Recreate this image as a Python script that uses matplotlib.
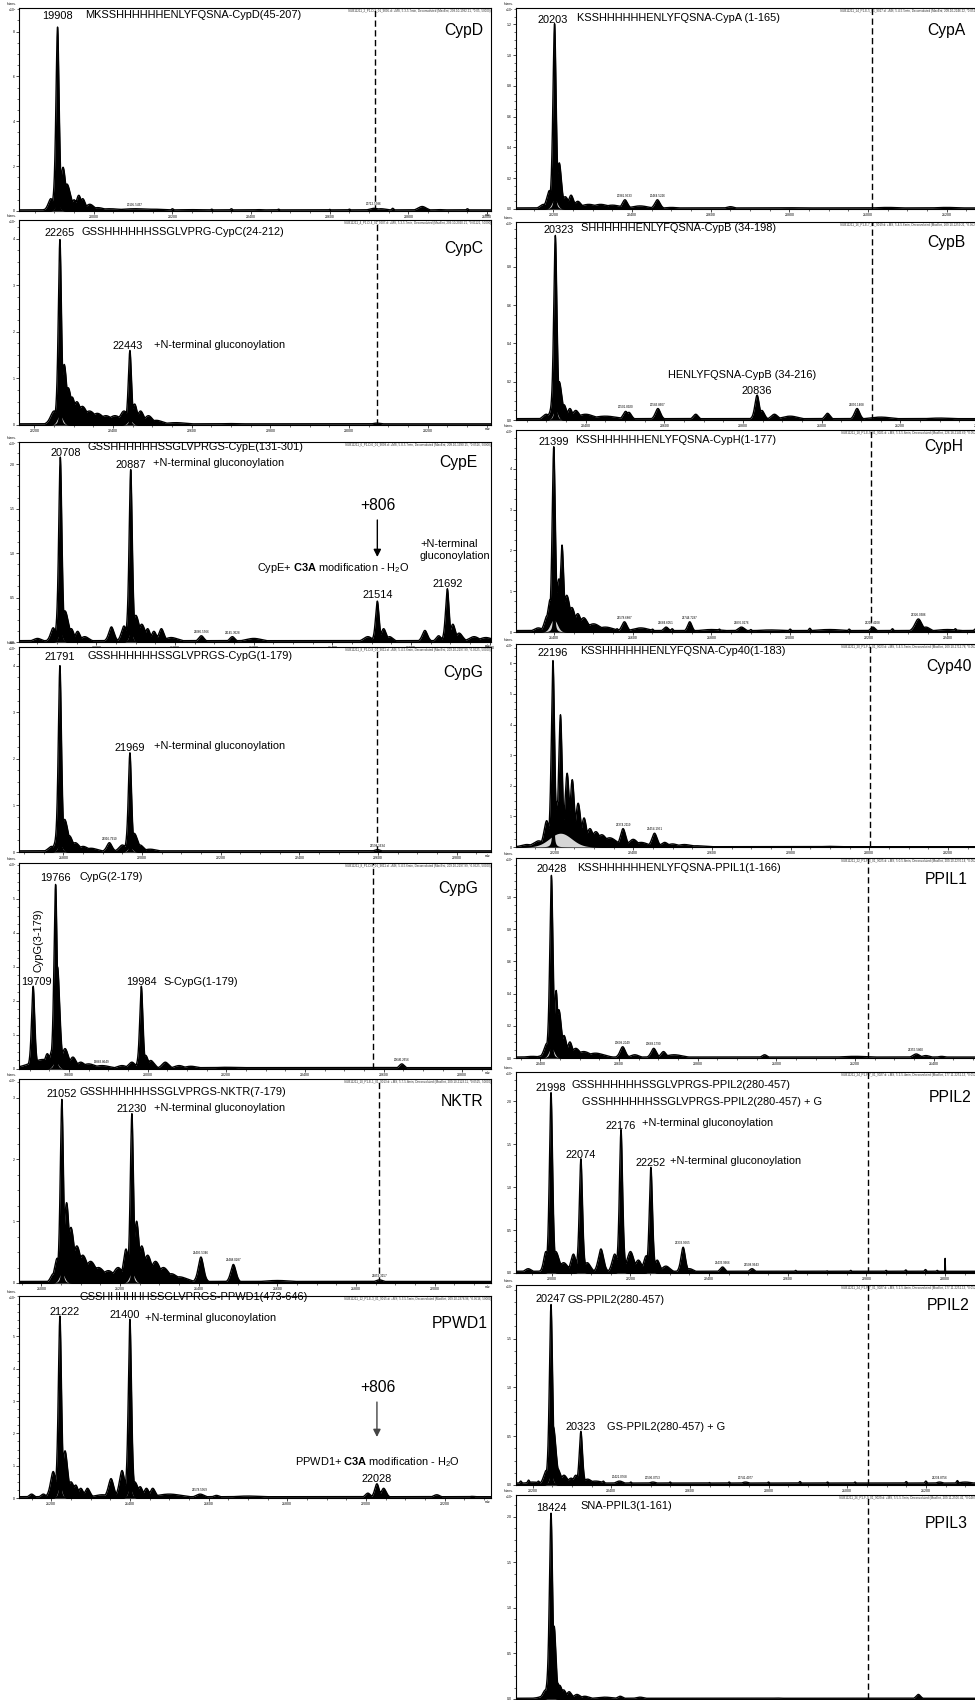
import numpy as np
import matplotlib
matplotlib.use("Agg")
import matplotlib.pyplot as plt
from matplotlib.ticker import MultipleLocator, AutoMinorLocator

plt.rcParams["font.family"] = ["Liberation Sans", "DejaVu Sans"]
plt.rcParams["mathtext.fontset"] = "custom"
plt.rcParams["mathtext.rm"] = "Liberation Sans"
plt.rcParams["mathtext.it"] = "Liberation Sans:italic"
plt.rcParams["mathtext.bf"] = "Liberation Sans:bold"

W, H = 975, 1700
C3A_SHIFT = 806      # mass gained by the C3A adduct (minus water), Da
SPAN = 1200          # deconvoluted mass window shown in every panel, Da

# ---------------------------------------------------------------------------
# Peak tables: centre mass (Da), intensity (axis units), half width (Da)
# plus the level of the noise floor of each trace
# ---------------------------------------------------------------------------
cypd_mz = [19891, 19908, 19922, 19932, 19950, 19962, 19972, 19990, 20010, 20040,
           20105.5437, 20150, 20200, 20250, 20300, 20350, 20420, 20470, 20540, 20600,
           20650, 20712.5386, 20730, 20760, 20835, 20880, 20950]
cypd_int = [0.55, 8.2, 1.95, 1.2, 0.5, 0.7, 0.55, 0.3, 0.15, 0.1,
            0.1, 0.08, 0.1, 0.06, 0.08, 0.1, 0.06, 0.08, 0.05, 0.07,
            0.08, 0.12, 0.1, 0.12, 0.2, 0.06, 0.1]
cypd_hw = [3, 1.8, 3, 4, 3, 3, 3, 5, 8, 15, 20, 20, 1.5, 30, 1.5, 1.5, 10, 1.5, 10, 1.5,
           1.5, 6, 8, 1.5, 5, 10, 1.5]
cypd_gray = [(19908, 0.25, 6)]
cypd_floor = 0.05

cypc_mz = [22250, 22265, 22276, 22286, 22296, 22308, 22322, 22340, 22360, 22382,
           22405, 22428, 22443, 22455, 22470, 22490, 22510, 22560, 22700, 23071]
cypc_int = [0.3, 3.98, 1.3, 0.8, 0.6, 0.5, 0.4, 0.3, 0.25, 0.2,
            0.2, 0.3, 1.6, 0.45, 0.3, 0.2, 0.1, 0.05, 0.03, 0.04]
cypc_hw = [4, 1.8, 3, 4, 4, 5, 6, 8, 8, 8, 8, 5, 1.8, 3, 4, 5, 8, 15, 20, 6]
cypc_gray = [(22265, 0.2, 7), (22443, 0.1, 6)]
cypc_floor = 0.025

cype_mz = [20650, 20690, 20708, 20720, 20736, 20752, 20770, 20838, 20870, 20887,
           20900, 20915, 20930, 20946, 20965, 20990, 21066.5566, 21145.3628, 21200,
           21490, 21514, 21530, 21545, 21635, 21670, 21692, 21706, 21722, 21760, 21790]
cype_int = [0.04, 0.16, 2.08, 0.35, 0.15, 0.12, 0.06, 0.17, 0.18, 1.94,
            0.3, 0.2, 0.15, 0.12, 0.15, 0.05, 0.07, 0.06, 0.04,
            0.06, 0.46, 0.15, 0.06, 0.13, 0.07, 0.60, 0.2, 0.1, 0.06, 0.05]
cype_hw = [5, 3, 1.8, 4, 3, 3, 5, 3, 3, 1.8, 4, 4, 3, 3, 3, 8, 3, 3, 10,
           5, 2, 3, 4, 3, 3, 2, 3, 4, 6, 8]
cype_gray = [(20708, 0.1, 5), (20887, 0.1, 5)]
cype_floor = 0.015

cypg_mz = [21770, 21791, 21803, 21815, 21830, 21850, 21870, 21916.7910, 21950,
           21969, 21980, 21995, 22020, 22598.1634]
cypg_int = [0.12, 4.0, 0.7, 0.35, 0.2, 0.12, 0.08, 0.2, 0.15, 2.13, 0.4, 0.15, 0.06, 0.05]
cypg_hw = [4, 1.8, 4, 4, 5, 6, 8, 3, 4, 1.8, 4, 4, 8, 4]
cypg_gray = [(21791, 0.15, 6), (21969, 0.1, 6)]
cypg_floor = 0.025

cypg2_mz = [19700, 19709, 19735, 19745, 19758, 19766, 19771, 19790, 19810, 19830,
            19850, 19883.8649, 19935, 19960, 19984, 19995, 20008, 20045, 20080,
            20110, 20200, 20646.2656, 20700]
cypg2_int = [0.15, 2.43, 0.28, 0.45, 0.6, 5.42, 3.0, 0.6, 0.35, 0.2,
             0.15, 0.1, 0.1, 0.2, 2.43, 0.4, 0.25, 0.2, 0.1, 0.08, 0.05, 0.15, 0.03]
cypg2_hw = [3, 1.8, 15, 3, 3, 1.8, 2.5, 4, 4, 5, 8, 10, 6, 4, 1.8, 3, 4, 4, 6, 8, 20, 3, 20]
cypg2_gray = [(19766, 0.2, 7)]
cypg2_floor = 0.04

nktr_mz = [21030, 21040, 21052, 21064, 21075, 21090, 21105, 21125, 21145, 21170,
           21195, 21215, 21230, 21242, 21255, 21270, 21290, 21310, 21330, 21350,
           21405.5346, 21488.0287, 21600, 21859.3157]
nktr_int = [0.15, 0.4, 2.97, 1.3, 0.9, 0.6, 0.45, 0.35, 0.25, 0.2,
            0.25, 0.55, 2.74, 1.0, 0.6, 0.45, 0.35, 0.25, 0.15, 0.1,
            0.42, 0.3, 0.04, 0.05]
nktr_hw = [3, 3, 1.8, 3, 4, 5, 6, 7, 8, 8, 6, 3, 1.8, 3, 4, 5, 6, 7, 8, 10, 3, 3, 20, 5]
nktr_gray = [(21052, 0.15, 7), (21230, 0.15, 7)]
nktr_floor = 0.025

ppwd1_mz = [21150, 21180, 21205, 21222, 21235, 21250, 21262, 21275, 21292, 21330,
            21352, 21380, 21400, 21412, 21426, 21442, 21458, 21500, 21578.5959,
            21620, 21700, 22005, 22028, 22045, 22180, 22270]
ppwd1_int = [0.12, 0.12, 0.82, 5.63, 1.46, 0.5, 0.4, 0.3, 0.3, 0.1,
             0.6, 0.85, 5.53, 0.5, 0.35, 0.3, 0.3, 0.12, 0.12,
             0.08, 0.06, 0.15, 0.44, 0.3, 0.1, 0.05]
ppwd1_hw = [3, 3, 3, 1.8, 3, 4, 3, 3, 3, 10, 3, 3, 1.8, 4, 3, 3, 3, 15, 5,
            4, 20, 3, 2.5, 3, 4, 5]
ppwd1_gray = [(21222, 0.35, 5), (21400, 0.3, 5)]
ppwd1_floor = 0.04

cypa_mz = [20175, 20190, 20203, 20215, 20230, 20245, 20262, 20290, 20320, 20350,
           20381.9533, 20420, 20464.5226, 20500, 20650, 20800, 21050, 21200]
cypa_int = [0.03, 0.12, 1.205, 0.3, 0.08, 0.09, 0.05, 0.03, 0.03, 0.025,
            0.06, 0.02, 0.06, 0.01, 0.015, 0.008, 0.01, 0.01]
cypa_hw = [4, 3, 1.8, 2.5, 4, 3, 4, 10, 10, 10, 3, 10, 3, 10, 5, 20, 20, 20]
cypa_gray = [(20203, 0.06, 7)]
cypa_floor = 0.007

cypb_mz = [20300, 20323, 20333, 20345, 20360, 20375, 20400, 20450, 20501.8920,
           20510, 20583.8607, 20680, 20836, 20848, 20880, 20920, 21015, 21090.1408,
           21150, 21300]
cypb_int = [0.03, 0.965, 0.2, 0.08, 0.06, 0.05, 0.03, 0.02, 0.045,
            0.04, 0.06, 0.03, 0.13, 0.05, 0.03, 0.02, 0.035, 0.06, 0.015, 0.01]
cypb_hw = [4, 1.8, 3, 3, 3, 4, 10, 15, 3, 3, 3, 3, 2.5, 3, 4, 10, 3, 3, 15, 20]
cypb_gray = [(20323, 0.05, 6)]
cypb_floor = 0.007

cyph_mz = [21360, 21382, 21390, 21399, 21412, 21420, 21432, 21445, 21460, 21475,
           21500, 21530, 21560, 21578.6887, 21620, 21650, 21684.6051, 21700, 21744.7287,
           21800, 21820, 21876.0176, 21900, 21950, 22000, 22050, 22100, 22150,
           22210.4108, 22260, 22326.0386, 22345, 22400, 22420, 22470]
cyph_int = [0.1, 0.4, 0.8, 4.54, 1.3, 2.13, 0.9, 0.6, 0.45, 0.35,
            0.2, 0.12, 0.08, 0.25, 0.1, 0.07, 0.12, 0.08, 0.25,
            0.06, 0.07, 0.12, 0.06, 0.05, 0.07, 0.09, 0.06, 0.07,
            0.12, 0.08, 0.32, 0.12, 0.06, 0.08, 0.07]
cyph_hw = [5, 3, 3, 1.8, 3, 2, 4, 4, 4, 5, 8, 10, 1.5, 3, 10, 1.5, 3, 1.5, 2.5,
           15, 1.5, 4, 1.5, 20, 1.5, 1.5, 20, 1.5, 3, 1.5, 4, 5, 15, 1.5, 1.5]
cyph_gray = [(21399, 0.3, 9)]
cyph_floor = 0.035

cyp40_mz = [22130, 22160, 22180, 22196, 22208, 22215, 22232, 22245, 22260, 22275,
            22290, 22305, 22320, 22340, 22374.2119, 22400, 22420, 22454.1951, 22480,
            22500, 22530, 22560, 22900]
cyp40_int = [0.08, 0.2, 0.86, 6.09, 1.5, 4.32, 2.41, 2.2, 1.43, 0.95,
             0.6, 0.5, 0.4, 0.3, 0.6, 0.25, 0.15, 0.45, 0.15, 0.1, 0.08, 0.04, 0.02]
cyp40_hw = [6, 6, 3, 1.8, 3, 2, 2.5, 2.5, 3, 3, 4, 5, 6, 8, 3, 5, 8, 3, 4, 6, 8, 10, 10]
cyp40_gray = [(22215, 0.45, 28)]
cyp40_floor = 0.01

ppil1_mz = [20380, 20416, 20428, 20440, 20447, 20460, 20475, 20490, 20510, 20540,
            20609.2049, 20640, 20688.1790, 20713, 20740, 20970, 21200, 21355.5860,
            21380, 21420]
ppil1_int = [0.01, 0.09, 1.135, 0.42, 0.3, 0.14, 0.1, 0.06, 0.04, 0.03,
             0.07, 0.02, 0.06, 0.04, 0.02, 0.02, 0.01, 0.025, 0.015, 0.01]
ppil1_hw = [10, 3, 1.8, 2, 3, 3, 3, 5, 8, 10, 3, 5, 3, 3, 10, 3, 20, 4, 5, 5]
ppil1_gray = [(20428, 0.06, 7)]
ppil1_floor = 0.006

ppil2_mz = [21940, 21985, 21998, 22010, 22030, 22055, 22074, 22090, 22125, 22160,
            22176, 22200, 22220, 22240, 22252, 22268, 22290, 22333.9565, 22350,
            22433.9666, 22508.9643, 22600, 22620, 22700, 22760, 22800, 22850, 22900,
            22950, 22980, 23000]
ppil2_int = [0.05, 0.25, 2.1, 0.25, 0.12, 0.22, 1.33, 0.12, 0.28, 0.22,
             1.67, 0.25, 0.15, 0.2, 1.23, 0.15, 0.08, 0.3, 0.05,
             0.07, 0.05, 0.02, 0.03, 0.025, 0.03, 0.02, 0.03, 0.035, 0.04, 0.03, 0.17]
ppil2_hw = [4, 2.5, 1.8, 4, 5, 3, 1.8, 4, 3, 3, 1.8, 4, 4, 3, 1.8, 3, 5, 2.5, 5,
            3, 3, 20, 1.5, 1.5, 1.5, 20, 1.5, 1.5, 1.5, 1.5, 0.15]
ppil2_gray = [(21998, 0.05, 5), (22074, 0.04, 5), (22176, 0.04, 5), (22252, 0.04, 5)]
ppil2_floor = 0.02

ppil2b_mz = [20170, 20190, 20200, 20215, 20235, 20247, 20253, 20262, 20280, 20298,
             20310, 20323, 20340, 20360, 20380, 20421.0768, 20450, 20506.0753, 20550,
             20600, 20650, 20700, 20741.4077, 20800, 20880, 20900, 20950, 21020, 21100,
             21150, 21200, 21234.8756, 21280, 21300, 21330]
ppil2b_int = [0.04, 0.05, 0.03, 0.04, 0.15, 1.85, 0.6, 0.18, 0.1, 0.07,
              0.1, 0.55, 0.06, 0.04, 0.04, 0.04, 0.03, 0.03, 0.03,
              0.02, 0.025, 0.03, 0.03, 0.03, 0.035, 0.02, 0.03, 0.03, 0.02,
              0.035, 0.04, 0.03, 0.045, 0.03, 0.05]
ppil2b_hw = [1.5, 1.5, 10, 1.5, 3, 1.8, 3, 4, 4, 4, 3, 1.8, 5, 10, 1.5, 5, 1.5, 5, 1.5,
             20, 1.5, 1.5, 5, 1.5, 1.5, 20, 1.5, 1.5, 20, 1.5, 1.5, 5, 1.5, 10, 1.5]
ppil2b_gray = [(20247, 0.1, 5)]
ppil2b_floor = 0.02

ppil3_mz = [18410, 18424, 18432, 18440, 18446, 18456, 18470, 18490, 18510, 18560,
            18600, 18650, 19000, 19358]
ppil3_int = [0.1, 2.04, 0.8, 0.18, 0.15, 0.1, 0.08, 0.05, 0.03, 0.02,
             0.03, 0.02, 0.01, 0.05]
ppil3_hw = [3, 1.8, 2, 3, 3, 3, 3, 4, 5, 10, 3, 5, 10, 2.5]
ppil3_gray = [(18424, 0.06, 5)]
ppil3_floor = 0.008

GLUC = "+N-terminal gluconoylation"

PANELS = [
    # ---------------- left column ----------------
    dict(col=0, top=8, bottom=211, x0=19810, ymax=9.05, yticks=[0, 2, 4, 6, 8], yfmt="{:g}", exp=5,
         mz=cypd_mz, inten=cypd_int, hw=cypd_hw, gray=cypd_gray, floor=cypd_floor,
         labels=[(19908, 0, 12)], small=[20105.5437, 20712.5386], dashed=19908 + C3A_SHIFT,
         name="CypD", name_xy=(483, 30),
         texts=[(85, 15, "MKSSHHHHHHENLYFQSNA-CypD(45-207)", "left")],
         header="SUB11211_2_P1-D-2_01_9005.d: +MS, 5.3-5.7min, Deconvoluted (MaxEnt, 209.10-1992.21, *0.05, 50000)"),
    dict(col=0, top=220, bottom=425, x0=22161, ymax=4.4, yticks=[0, 1, 2, 3, 4], yfmt="{:g}", exp=5,
         mz=cypc_mz, inten=cypc_int, hw=cypc_hw, gray=cypc_gray, floor=cypc_floor,
         labels=[(22265, 0, 8), (22443, -2, 5)], small=[], dashed=22265 + C3A_SHIFT,
         name="CypC", name_xy=(483, 249),
         texts=[(81, 232, "GSSHHHHHHSSGLVPRG-CypC(24-212)", "left"), (154, 345, GLUC, "left")],
         header="SUB11211_4_P1-D-4_01_9007.d: +MS, 5.3-5.7min, Deconvoluted (MaxEnt, 209.10-2020.21, *0.01121, 50000)"),
    dict(col=0, top=442, bottom=642, x0=20603, ymax=2.25, yticks=[0, 0.5, 1.0, 1.5, 2.0], yfmt="{:.1f}", exp=5,
         mz=cype_mz, inten=cype_int, hw=cype_hw, gray=cype_gray, floor=cype_floor,
         labels=[(20708, 5, 5), (20887, 0, 6), (21514, 0, 7), (21692, 0, 6)],
         small=[21066.5566, 21145.3628], dashed=None,
         arrow=(20708 + C3A_SHIFT, 0.61, 0.425, "black"), plus_xy=(378, 505),
         name="CypE", name_xy=(477, 463),
         texts=[(88, 447, "GSSHHHHHHSSGLVPRGS-CypE(131-301)", "left"), (153, 463, GLUC, "left"),
                (333, 568, r"CypE+ $\mathbf{C3A}$ modification - H$_\mathrm{2}$O", "center"),
                (420, 550, "+N-terminal\ngluconoylation", "left")],
         header="SUB11211_6_P1-D-6_01_9009.d: +MS, 5.0-5.7min, Deconvoluted (MaxEnt, 209.10-1990.15, *0.0516, 50000)"),
    dict(col=0, top=647, bottom=852, x0=21687, ymax=4.4, yticks=[0, 1, 2, 3, 4], yfmt="{:g}", exp=5,
         mz=cypg_mz, inten=cypg_int, hw=cypg_hw, gray=cypg_gray, floor=cypg_floor,
         labels=[(21791, 0, 10), (21969, 0, 6)], small=[21916.7910, 22598.1634], dashed=21791 + C3A_SHIFT,
         name="CypG", name_xy=(483, 672),
         texts=[(87, 656, "GSSHHHHHHSSGLVPRGS-CypG(1-179)", "left"), (154, 746, GLUC, "left")],
         header="SUB11211_8_P1-D-8_01_9011.d: +MS, 5.4-5.6min, Deconvoluted (MaxEnt, 209.10-2197.99, *0.0525, 50000)"),
    dict(col=0, top=863, bottom=1069, x0=19673, ymax=6.05, yticks=[0, 1, 2, 3, 4, 5], yfmt="{:g}", exp=5,
         mz=cypg2_mz, inten=cypg2_int, hw=cypg2_hw, gray=cypg2_gray, floor=cypg2_floor,
         labels=[(19766, 0, 7), (19709, 3, 5), (19984, 0, 5)], small=[19883.8649, 20646.2656],
         dashed=19766 + C3A_SHIFT,
         name="CypG", name_xy=(478, 888),
         texts=[(80, 877, "CypG(2-179)", "left"), (163, 982, "S-CypG(1-179)", "left")],
         vtext=(39, 940, "CypG(3-179)"),
         header="SUB11211_8_P1-D-8_01_9011.d: +MS, 5.4-5.6min, Deconvoluted (MaxEnt, 209.10-2197.99, *0.0525, 50000)"),
    dict(col=0, top=1079, bottom=1283, x0=20943, ymax=3.3, yticks=[0, 1, 2, 3], yfmt="{:g}", exp=5,
         mz=nktr_mz, inten=nktr_int, hw=nktr_hw, gray=nktr_gray, floor=nktr_floor,
         labels=[(21052, 0, 6), (21230, 0, 6)], small=[21405.5346, 21488.0287, 21859.3157],
         dashed=21052 + C3A_SHIFT,
         name="NKTR", name_xy=(483, 1101),
         texts=[(79, 1092, "GSSHHHHHHSSGLVPRGS-NKTR(7-179)", "left"), (154, 1108, GLUC, "left")],
         header="SUB11211_10_P1-E-1_01_9013.d: +MS, 5.7-5.8min, Deconvoluted (MaxEnt, 209.10-2123.11, *0.0525, 50000)"),
    dict(col=0, top=1296, bottom=1498, x0=21118, ymax=6.25, yticks=[0, 1, 2, 3, 4, 5], yfmt="{:g}", exp=5,
         mz=ppwd1_mz, inten=ppwd1_int, hw=ppwd1_hw, gray=ppwd1_gray, floor=ppwd1_floor,
         labels=[(21222, 5, 5), (21400, -5, 5), (22028, 0, 6)], small=[21578.5959], dashed=None,
         arrow=(21222 + C3A_SHIFT, 0.475, 0.302, "#444444"), plus_xy=(378, 1387),
         name="PPWD1", name_xy=(488, 1323),
         texts=[(80, 1297, "GSSHHHHHHSSGLVPRGS-PPWD1(473-646)", "left"), (145, 1318, GLUC, "left"),
                (377, 1462, r"PPWD1+ $\mathbf{C3A}$ modification - H$_\mathrm{2}$O", "center")],
         header="SUB11211_12_P1-E-3_01_9015.d: +MS, 5.3-5.5min, Deconvoluted (MaxEnt, 209.10-2378.96, *0.0516, 50000)"),
    # ---------------- right column ----------------
    dict(col=1, top=8, bottom=209, x0=20105, ymax=1.307, yticks=[0, 0.2, 0.4, 0.6, 0.8, 1.0, 1.2], yfmt="{:.1f}", exp=6,
         mz=cypa_mz, inten=cypa_int, hw=cypa_hw, gray=cypa_gray, floor=cypa_floor,
         labels=[(20203, -2, 5)], small=[20381.9533, 20464.5226], dashed=20203 + C3A_SHIFT,
         name="CypA", name_xy=(965, 30),
         texts=[(577, 18, "KSSHHHHHHENLYFQSNA-CypA (1-165)", "left")],
         header="SUB11211_14_P1-E-5_01_9017.d: +MS, 5.4-5.5min, Deconvoluted (MaxEnt, 209.10-2246.22, *0.0525, 50000)"),
    dict(col=1, top=222, bottom=420, x0=20223, ymax=1.035, yticks=[0, 0.2, 0.4, 0.6, 0.8], yfmt="{:.1f}", exp=6,
         mz=cypb_mz, inten=cypb_int, hw=cypb_hw, gray=cypb_gray, floor=cypb_floor,
         labels=[(20323, 3, 6), (20836, 0, 5)], small=[20501.8920, 20583.8607, 21090.1408],
         dashed=20323 + C3A_SHIFT,
         name="CypB", name_xy=(965, 242),
         texts=[(581, 228, "SHHHHHHENLYFQSNA-CypB (34-198)", "left"),
                (742, 375, "HENLYFQSNA-CypB (34-216)", "center")],
         header="SUB11211_16_P1-E-7_01_9019.d: +MS, 5.4-5.6min, Deconvoluted (MaxEnt, 209.10-2259.21, *0.0525, 50000)"),
    dict(col=1, top=430, bottom=632, x0=21303, ymax=4.95, yticks=[0, 1, 2, 3, 4], yfmt="{:g}", exp=5,
         mz=cyph_mz, inten=cyph_int, hw=cyph_hw, gray=cyph_gray, floor=cyph_floor,
         labels=[(21399, 0, 6)], small=[21578.6887, 21684.6051, 21744.7287, 21876.0176, 22210.4108, 22326.0386],
         dashed=21399 + C3A_SHIFT,
         name="CypH", name_xy=(963, 447),
         texts=[(575, 440, "KSSHHHHHHENLYFQSNA-CypH(1-177)", "left")],
         header="SUB11211_18_P1-E-9_01_9021.d: +MS, 5.3-5.6min, Deconvoluted (MaxEnt, 226.18-2142.69, *0.0525, 50000)"),
    dict(col=1, top=644, bottom=847, x0=22102, ymax=6.63, yticks=[0, 1, 2, 3, 4, 5, 6], yfmt="{:g}", exp=5,
         mz=cyp40_mz, inten=cyp40_int, hw=cyp40_hw, gray=cyp40_gray, floor=cyp40_floor,
         labels=[(22196, 0, 9)], small=[22374.2119, 22454.1951], dashed=22196 + C3A_SHIFT,
         name="Cyp40", name_xy=(972, 667),
         texts=[(580, 651, "KSSHHHHHHENLYFQSNA-Cyp40(1-183)", "left")],
         header="SUB11211_20_P1-F-1_01_9023.d: +MS, 5.4-5.5min, Deconvoluted (MaxEnt, 209.10-1712.78, *0.0525, 50000)"),
    dict(col=1, top=858, bottom=1058, x0=20338, ymax=1.243, yticks=[0, 0.2, 0.4, 0.6, 0.8, 1.0], yfmt="{:.1f}", exp=6,
         mz=ppil1_mz, inten=ppil1_int, hw=ppil1_hw, gray=ppil1_gray, floor=ppil1_floor,
         labels=[(20428, 0, 7)], small=[20609.2049, 20688.1790, 21355.5860], dashed=20428 + C3A_SHIFT,
         name="PPIL1", name_xy=(968, 879),
         texts=[(577, 868, "KSSHHHHHHENLYFQSNA-PPIL1(1-166)", "left")],
         header="SUB11211_22_P1-F-3_01_9025.d: +MS, 5.0-5.8min, Deconvoluted (MaxEnt, 209.10-2270.14, *0.0525, 50000)"),
    dict(col=1, top=1072, bottom=1273, x0=21909, ymax=2.34, yticks=[0, 0.5, 1.0, 1.5, 2.0], yfmt="{:.1f}", exp=5,
         mz=ppil2_mz, inten=ppil2_int, hw=ppil2_hw, gray=ppil2_gray, floor=ppil2_floor,
         labels=[(21998, 0, 6), (22074, 0, 5), (22176, 0, 5), (22252, 0, 5)],
         small=[22333.9565, 22433.9666, 22508.9643], dashed=21998 + C3A_SHIFT,
         name="PPIL2", name_xy=(972, 1098),
         texts=[(571, 1085, "GSSHHHHHHSSGLVPRGS-PPIL2(280-457)", "left"),
                (582, 1102, "GSSHHHHHHSSGLVPRGS-PPIL2(280-457) + G", "left"),
                (642, 1123, GLUC, "left"), (670, 1161, GLUC, "left")],
         header="SUB11211_24_P1-F-7_01_9027.d: +MS, 5.2-5.4min, Deconvoluted (MaxEnt, 177.11-2251.13, *0.0525, 50000)"),
    dict(col=1, top=1285, bottom=1485, x0=20158, ymax=2.05, yticks=[0, 0.5, 1.0, 1.5], yfmt="{:.1f}", exp=5,
         mz=ppil2b_mz, inten=ppil2b_int, hw=ppil2b_hw, gray=ppil2b_gray, floor=ppil2b_floor,
         labels=[(20247, 0, 7), (20323, 0, 5)], small=[20421.0768, 20506.0753, 20741.4077, 21234.8756],
         dashed=20247 + C3A_SHIFT,
         name="PPIL2", name_xy=(970, 1305),
         texts=[(568, 1300, "GS-PPIL2(280-457)", "left"), (607, 1427, "GS-PPIL2(280-457) + G", "left")],
         header="SUB11211_24_P1-F-7_01_9027.d: +MS, 5.2-5.4min, Deconvoluted (MaxEnt, 177.11-2251.13, *0.0525, 50000)"),
    dict(col=1, top=1495, bottom=1699, x0=18335, ymax=2.24, yticks=[0, 0.5, 1.0, 1.5, 2.0], yfmt="{:.1f}", exp=6,
         mz=ppil3_mz, inten=ppil3_int, hw=ppil3_hw, gray=ppil3_gray, floor=ppil3_floor,
         labels=[(18424, 0, 6)], small=[], dashed=18424 + C3A_SHIFT,
         name="PPIL3", name_xy=(968, 1523),
         texts=[(580, 1506, "SNA-PPIL3(1-161)", "left")],
         header="SUB11211_26_P1-F-9_01_9029.d: +MS, 5.5-5.7min, Deconvoluted (MaxEnt, 209.11-2506.41, *0.04875, 50000)"),
]

COL_LEFT = [19, 516]
AX_W = 472
LABEL_SIZE = 7.9
NAME_SIZE = 11.3
TINY = 2.5
WIDTH_SCALE = 2.7     # instrument broadening applied to every listed half width
LORENTZ_FRAC = 0.4    # share of Lorentzian tail in the pseudo-Voigt line shape

fig = plt.figure(figsize=(W / 100, H / 100), dpi=100)
fig.patch.set_facecolor("white")


def ftext(x, y, s, ha="left", va="center", size=LABEL_SIZE, **kw):
    """Place text using pixel coordinates measured from the top-left corner."""
    fig.text(x / W, 1 - y / H, s, ha=ha, va=va, fontsize=size, **kw)


def line_shape(x, c, h, w):
    d2 = ((x - c) / w) ** 2
    return h * ((1 - LORENTZ_FRAC) * np.exp(-np.log(2) * d2) + LORENTZ_FRAC / (1 + d2))


def envelope(x, centres, heights, widths, floor=0.0):
    y = np.full_like(x, floor)
    for c, h, g in zip(centres, heights, widths):
        y = np.maximum(y, line_shape(x, c, h, g * WIDTH_SCALE))
    return y


def draw_panel(p):
    left = COL_LEFT[p["col"]]
    ax = fig.add_axes([left / W, 1 - p["bottom"] / H, AX_W / W, (p["bottom"] - p["top"]) / H])
    x0, x1 = p["x0"], p["x0"] + SPAN
    x = np.arange(x0, x1, 0.1)
    y = envelope(x, p["mz"], p["inten"], p["hw"], p["floor"])

    ax.fill_between(x, 0, y, color="black", lw=0, zorder=2)
    ax.plot(x, y, color="black", lw=1.0, zorder=2)

    # second (lighter) trace under the main species, main spikes kept on top
    if p.get("gray"):
        g = np.zeros_like(x)
        for c, h, s in p["gray"]:
            g += h * np.exp(-0.5 * ((x - c) / s) ** 2)
        ax.fill_between(x, 0, np.minimum(g, y), color="#d6d6d6", lw=0, zorder=3)
        core = np.zeros_like(x)
        for m, _, _ in p["labels"]:
            core = np.maximum(core, line_shape(x, m, np.interp(m, x, y), 1.6))
        ax.fill_between(x, 0, np.minimum(core, y), color="black", lw=0, zorder=4)

    if p.get("dashed") is not None:
        ax.axvline(p["dashed"], color="black", lw=1.0, ls=(0, (4.5, 2.5)), zorder=5)

    ax.set_xlim(x0, x1)
    ax.set_ylim(0, p["ymax"])
    ax.xaxis.set_major_locator(MultipleLocator(200))
    ax.xaxis.set_minor_locator(MultipleLocator(50))
    ax.set_yticks(p["yticks"])
    ax.set_yticklabels([p["yfmt"].format(v) for v in p["yticks"]])
    ax.yaxis.set_minor_locator(AutoMinorLocator(4))
    ax.tick_params(which="major", direction="out", length=2.2, width=0.5, labelsize=TINY, pad=1)
    ax.tick_params(which="minor", direction="out", length=1.1, width=0.4)
    for sp in ax.spines.values():
        sp.set_linewidth(0.8)

    # peak labels carry the mass of the peak they sit on
    for m, dx, dy in p["labels"]:
        yv = np.interp(m, x, y)
        ax.annotate(f"{m:.0f}", xy=(m, yv), xytext=(dx, dy), textcoords="offset pixels",
                    ha="center", va="center_baseline", fontsize=LABEL_SIZE, zorder=6)
    for m in p["small"]:
        yv = np.interp(m, x, y)
        ax.annotate(f"{m:.4f}", xy=(m, yv), xytext=(0, 2), textcoords="offset pixels",
                    ha="center", va="bottom", fontsize=2.2, zorder=6)

    if p.get("arrow"):
        mx, y_tail, y_tip, col = p["arrow"]
        tr = ax.get_xaxis_transform()
        ax.annotate("", xy=(mx, y_tip), xycoords=tr, xytext=(mx, y_tail), textcoords=tr,
                    arrowprops=dict(arrowstyle="-|>", color=col, lw=1.0, mutation_scale=11,
                                    shrinkA=0, shrinkB=0), zorder=6)
        px, py = p["plus_xy"]
        ftext(px, py, f"+{C3A_SHIFT}", ha="center", size=NAME_SIZE)

    ax.text(1.0, 0.995, p["header"], transform=ax.transAxes, ha="right", va="top",
            fontsize=2.2, color="#333333", clip_on=False)
    ax.text(-0.006, 1.0, "Intens.\nx10$^{%d}$" % p["exp"], transform=ax.transAxes,
            ha="right", va="center", fontsize=2.3, linespacing=1.2)
    ax.text(0.998, -0.012, "m/z", transform=ax.transAxes, ha="right", va="top", fontsize=TINY)

    nx, ny = p["name_xy"]
    ftext(nx, ny, p["name"], ha="right", size=NAME_SIZE)
    for tx, ty, s, ha in p["texts"]:
        ftext(tx, ty, s, ha=ha, linespacing=1.15)
    if p.get("vtext"):
        vx, vy, s = p["vtext"]
        ftext(vx, vy, s, ha="center", rotation=90)


for panel in PANELS:
    draw_panel(panel)

fig.savefig("out.png", dpi=100, facecolor="white")
